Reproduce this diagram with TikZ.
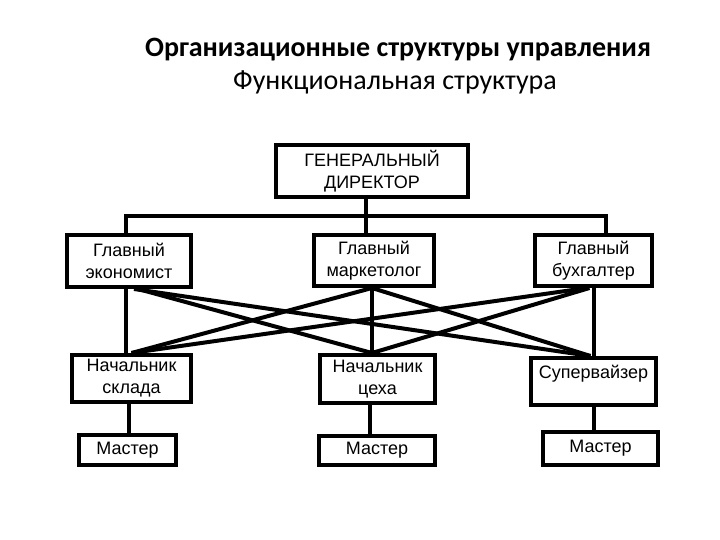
\documentclass[tikz,border=0pt]{standalone}
\usepackage{fontspec}
\setmainfont{Liberation Sans}
\newfontfamily\titlefont{Carlito}
\begin{document}
\begin{tikzpicture}[x=1pt,y=-1pt,
  box/.style={draw=black,line width=4pt,fill=white,inner sep=0pt,
    align=center,font=\fontsize{18}{22}\selectfont},
  conn/.style={line width=4pt,line cap=rect}]
\useasboundingbox[fill=white] (0,0) rectangle (720,540);
\node[font=\titlefont\bfseries\fontsize{28}{32}\selectfont] (t1) at (398,50) {Организационные структуры управления};
\node[font=\titlefont\fontsize{28}{32}\selectfont] (t2) at (395,82) {Функциональная структура};

\coordinate (bar) at (366,216);
\coordinate (barL) at (126,216);
\coordinate (barR) at (606,216);

\node[box,minimum width=192pt,minimum height=52pt] (dir) at (372,171) {ГЕНЕРАЛЬНЫЙ\\ДИРЕКТОР};
\node[box,minimum width=124pt,minimum height=52pt] (econ) at (129,261) {Главный\\экономист};
\node[box,minimum width=120pt,minimum height=51pt] (mark) at (374,260.5) {Главный\\маркетолог};
\node[box,minimum width=117pt,minimum height=51pt] (bukh) at (593.5,260.5) {Главный\\бухгалтер};
\node[box,minimum width=119pt,minimum height=47pt] (sklad) at (131.5,378.5) {Начальник\\склада};
\node[box,minimum width=115pt,minimum height=48pt] (tsekh) at (377.5,379) {Начальник\\цеха};
\node[box,minimum width=125pt,minimum height=47pt,anchor=north,text depth=24pt] (super) at (593.5,356) {\rule{0pt}{17pt}Супервайзер};
\node[box,minimum width=97pt,minimum height=30pt] (m1) at (127.5,450) {Мастер};
\node[box,minimum width=116pt,minimum height=29pt] (m2) at (377,450.5) {Мастер};
\node[box,minimum width=115pt,minimum height=33pt] (m3) at (600.5,448.5) {Мастер};

% top tree
\draw[conn] (dir.south -| bar) -- (bar);
\draw[conn] (barL |- econ.north) -- (barL) -- (barR) -- (barR |- bukh.north);
\draw[conn] (bar) -- (bar |- mark.north);

% verticals
\draw[conn] ([xshift=-3pt]econ.south) -- ([xshift=-5.5pt]sklad.north);
\draw[conn] ([xshift=-2pt]mark.south) -- ([xshift=-5.5pt]tsekh.north);
\draw[conn] ([xshift=0.5pt]bukh.south) -- ([xshift=0.5pt]super.north);

% diagonals
\draw[conn,line cap=butt] ([xshift=9pt]econ.south) -- ([xshift=-5.5pt]tsekh.north);
\draw[conn,line cap=butt] ([xshift=5pt]econ.south) -- ([xshift=-3pt]super.north);
\draw[conn,line cap=butt] ([xshift=-2pt]mark.south) -- ([xshift=0pt]sklad.north);
\draw[conn,line cap=butt] ([xshift=-2pt]mark.south) -- ([xshift=-3pt]super.north);
\draw[conn,line cap=butt] ([xshift=-7pt]bukh.south) -- ([xshift=0pt]sklad.north);
\draw[conn,line cap=butt] ([xshift=-4pt]bukh.south) -- ([xshift=-5.5pt]tsekh.north);

% lower verticals
\draw[conn] ([xshift=-2.5pt]sklad.south) -- ([xshift=1.5pt]m1.north);
\draw[conn] ([xshift=-7.5pt]tsekh.south) -- ([xshift=-7pt]m2.north);
\draw[conn] ([xshift=0.5pt]super.south) -- ([xshift=-6.5pt]m3.north);
\end{tikzpicture}
\end{document}
